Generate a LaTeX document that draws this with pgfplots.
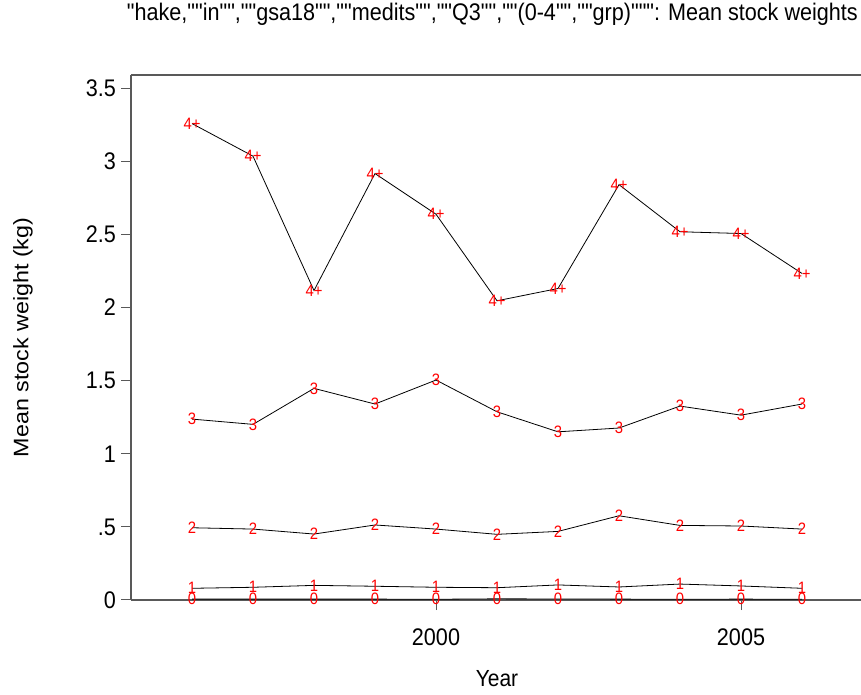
\documentclass[border=0pt]{standalone}
\usepackage{pgfplots}
\pgfplotsset{compat=1.18}
\usepackage{pgfplotstable}
\usepackage{fontspec}
\setmainfont{Liberation Sans}[FakeStretch=0.9]
\newfontfamily\plainsans{Liberation Sans}
\newfontfamily\titlefont{Liberation Sans}[FakeStretch=0.9, Ligatures=TeXOff]

% mean stock weight (kg) by age group and year
\pgfplotstableread{
year  a0     a1     a2     a3     a4
1996  0.006  0.080  0.494  1.237  3.258
1997  0.006  0.087  0.485  1.201  3.035
1998  0.006  0.100  0.451  1.447  2.116
1999  0.006  0.094  0.513  1.340  2.916
2000  0.005  0.087  0.485  1.504  2.638
2001  0.008  0.084  0.449  1.287  2.046
2002  0.007  0.103  0.469  1.150  2.130
2003  0.006  0.089  0.576  1.176  2.840
2004  0.005  0.109  0.510  1.326  2.518
2005  0.006  0.096  0.506  1.264  2.506
2006  0.005  0.080  0.485  1.340  2.233
}\weights

\newcommand\ticksize{\fontsize{24}{28}\selectfont}
\newcommand\labsize{\fontsize{23.3}{28}\selectfont}

\begin{document}
\begin{tikzpicture}[x=1pt,y=1pt]
\begin{axis}[
  at={(131pt,95pt)}, anchor=south west,
  scale only axis, width=732pt, height=525pt,
  xmin=1995, xmax=2007, ymin=0, ymax=3.59,
  axis lines=left,
  axis line style={-, black!65, line width=1.3pt},
  xtick={2000,2005}, xticklabels={2000,2005},
  ytick={0,0.5,1,1.5,2,2.5,3,3.5},
  yticklabels={0,.5,1,1.5,2,2.5,3,3.5},
  tick align=outside, major tick length=10pt,
  tick style={black!65, line width=1pt},
  /pgf/number format/assume math mode=true,
  xticklabel style={font=\ticksize, anchor=base, inner sep=0pt, yshift=-35.5pt},
  yticklabel style={font=\ticksize, anchor=east, inner sep=0pt, xshift=-5pt},
  title={"hake,""in"",""gsa18"",""medits"",""Q3"",""(0-4"",""grp)""": Mean stock weights},
  title style={font=\titlefont\fontsize{24}{28}\selectfont,
    at={(axis description cs:1,1)}, anchor=base east,
    inner sep=0pt, xshift=-5pt, yshift=48.3pt},
  xlabel={Year},
  xlabel style={font=\labsize, at={(axis description cs:0.5,0)}, anchor=base,
    inner sep=0pt, yshift=-86pt},
  ylabel={\rotatebox{90}{\scalebox{1}[0.9]{\plainsans\labsize Mean stock weight (kg)}}},
  ylabel style={at={(axis description cs:0,0.5)}, rotate=-90, anchor=center,
    inner sep=0pt, xshift=-108pt},
  clip=false,
  nodes near coords align={center},
  every node near coord/.style={anchor=center, inner sep=0pt, text=red,
    font=\fontsize{16.5}{17}\selectfont},
]
% frame line along the top of the plot region
\draw[black!65, line width=1.3pt] (rel axis cs:0,1) -- (rel axis cs:1,1);
\addplot[black, line width=0.8pt, mark=none, nodes near coords={0}] table[x=year, y=a0] {\weights};
\addplot[black, line width=0.8pt, mark=none, nodes near coords={1}] table[x=year, y=a1] {\weights};
\addplot[black, line width=0.8pt, mark=none, nodes near coords={2}] table[x=year, y=a2] {\weights};
\addplot[black, line width=0.8pt, mark=none, nodes near coords={3}] table[x=year, y=a3] {\weights};
\addplot[black, line width=0.8pt, mark=none, nodes near coords={4+}] table[x=year, y=a4] {\weights};
\end{axis}
\pgfresetboundingbox
\path[use as bounding box] (0,0) rectangle (861,695);
\end{tikzpicture}
\end{document}
